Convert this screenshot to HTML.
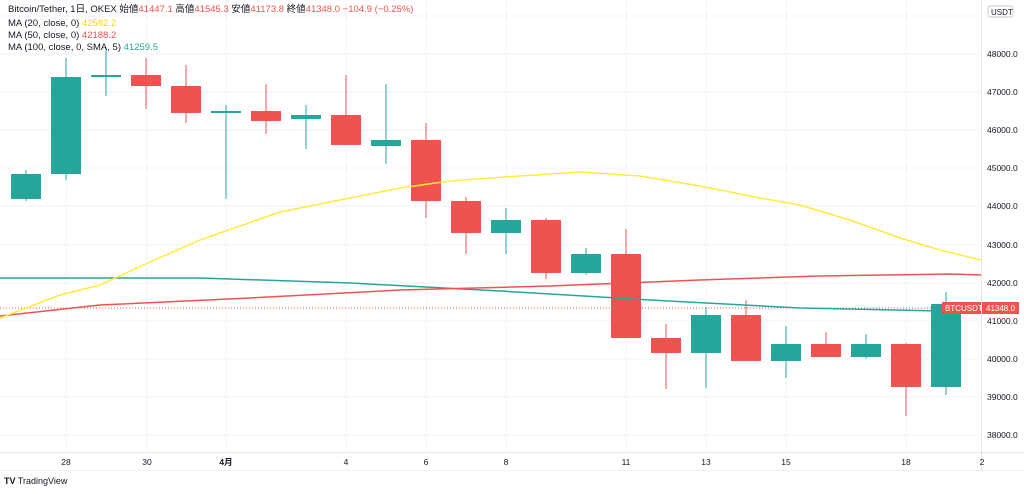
<!DOCTYPE html><html><head><meta charset="utf-8"><style>
body{margin:0;background:#fff;width:1024px;height:489px;overflow:hidden;font-family:"Liberation Sans","Noto Sans CJK JP",sans-serif}
svg text{font-family:"Liberation Sans","Noto Sans CJK JP",sans-serif}
</style></head><body>
<svg width="1024" height="489" xmlns="http://www.w3.org/2000/svg">
<g stroke="#f0f3fa" stroke-width="1">
<line x1="66" y1="0" x2="66" y2="452"/><line x1="147" y1="0" x2="147" y2="452"/><line x1="226" y1="0" x2="226" y2="452"/><line x1="346" y1="0" x2="346" y2="452"/><line x1="426" y1="0" x2="426" y2="452"/><line x1="506" y1="0" x2="506" y2="452"/><line x1="626" y1="0" x2="626" y2="452"/><line x1="706" y1="0" x2="706" y2="452"/><line x1="786" y1="0" x2="786" y2="452"/><line x1="906" y1="0" x2="906" y2="452"/>
<line x1="0" y1="16" x2="981" y2="16"/><line x1="0" y1="54" x2="981" y2="54"/><line x1="0" y1="92" x2="981" y2="92"/><line x1="0" y1="130" x2="981" y2="130"/><line x1="0" y1="168" x2="981" y2="168"/><line x1="0" y1="206" x2="981" y2="206"/><line x1="0" y1="245" x2="981" y2="245"/><line x1="0" y1="283" x2="981" y2="283"/><line x1="0" y1="321" x2="981" y2="321"/><line x1="0" y1="359" x2="981" y2="359"/><line x1="0" y1="397" x2="981" y2="397"/><line x1="0" y1="435" x2="981" y2="435"/>
</g>
<line x1="981.5" y1="0" x2="981.5" y2="470" stroke="#e0e3eb"/>
<line x1="0" y1="452.5" x2="1024" y2="452.5" stroke="#e0e3eb"/>
<line x1="0" y1="470.5" x2="1024" y2="470.5" stroke="#eef0f4"/>
<line x1="0" y1="308" x2="981" y2="308" stroke="#ef5350" stroke-dasharray="1,2" stroke-width="1"/>
<g fill="#26a69a" stroke="#26a69a">
<line x1="26" x2="26" y1="170" y2="201"/><rect x="11" y="174" width="30" height="25" stroke="none"/>
<line x1="66" x2="66" y1="58" y2="180"/><rect x="51" y="77" width="30" height="97" stroke="none"/>
<line x1="106" x2="106" y1="48" y2="96"/><rect x="91" y="75" width="30" height="2" stroke="none"/>
<line x1="226" x2="226" y1="105" y2="199"/><rect x="211" y="111" width="30" height="2" stroke="none"/>
<line x1="306" x2="306" y1="105" y2="149"/><rect x="291" y="115" width="30" height="4" stroke="none"/>
<line x1="386" x2="386" y1="84" y2="164"/><rect x="371" y="140" width="30" height="6" stroke="none"/>
<line x1="506" x2="506" y1="208" y2="254"/><rect x="491" y="220" width="30" height="13" stroke="none"/>
<line x1="586" x2="586" y1="248" y2="275"/><rect x="571" y="254" width="30" height="19" stroke="none"/>
<line x1="706" x2="706" y1="307" y2="388"/><rect x="691" y="315" width="30" height="38" stroke="none"/>
<line x1="786" x2="786" y1="326" y2="378"/><rect x="771" y="344" width="30" height="17" stroke="none"/>
<line x1="866" x2="866" y1="334" y2="359"/><rect x="851" y="344" width="30" height="13" stroke="none"/>
<line x1="946" x2="946" y1="292" y2="395"/><rect x="931" y="304" width="30" height="83" stroke="none"/>
</g>
<g fill="#ef5350" stroke="#ef5350">
<line x1="146" x2="146" y1="58" y2="109"/><rect x="131" y="75" width="30" height="11" stroke="none"/>
<line x1="186" x2="186" y1="65" y2="123"/><rect x="171" y="86" width="30" height="27" stroke="none"/>
<line x1="266" x2="266" y1="84" y2="134"/><rect x="251" y="111" width="30" height="10" stroke="none"/>
<line x1="346" x2="346" y1="75" y2="145"/><rect x="331" y="115" width="30" height="30" stroke="none"/>
<line x1="426" x2="426" y1="123" y2="218"/><rect x="411" y="140" width="30" height="61" stroke="none"/>
<line x1="466" x2="466" y1="197" y2="254"/><rect x="451" y="201" width="30" height="32" stroke="none"/>
<line x1="546" x2="546" y1="218" y2="279"/><rect x="531" y="220" width="30" height="53" stroke="none"/>
<line x1="626" x2="626" y1="229" y2="338"/><rect x="611" y="254" width="30" height="84" stroke="none"/>
<line x1="666" x2="666" y1="324" y2="389"/><rect x="651" y="338" width="30" height="15" stroke="none"/>
<line x1="746" x2="746" y1="300" y2="361"/><rect x="731" y="315" width="30" height="46" stroke="none"/>
<line x1="826" x2="826" y1="332" y2="357"/><rect x="811" y="344" width="30" height="13" stroke="none"/>
<line x1="906" x2="906" y1="343" y2="416"/><rect x="891" y="344" width="30" height="43" stroke="none"/>
</g>
<polyline fill="none" stroke="#26a69a" stroke-width="1.5" points="0,278 200,278 350,283 500,291 650,300 800,308 940,311 981,311"/>
<polyline fill="none" stroke="#ef5350" stroke-width="1.5" points="0,316 100,305 250,298 400,290 550,286 700,280 820,276 950,274 981,275"/>
<polyline fill="none" stroke="#ffeb3b" stroke-width="1.5" points="0,318 60,295 100,285 150,262 200,240 280,212 350,198 400,188 450,181 520,176 580,172 640,176 700,186 760,198 800,205 850,220 900,238 940,250 981,260"/>
<g font-size="9.5" fill="#131722">
<text x="8" y="12">Bitcoin/Tether, 1日, OKEX  始値<tspan fill="#ef5350">41447.1</tspan>  高値<tspan fill="#ef5350">41545.3</tspan>  安値<tspan fill="#ef5350">41173.8</tspan>  終値<tspan fill="#ef5350">41348.0  −104.9 (−0.25%)</tspan></text>
<text x="8" y="26">MA (20, close, 0)  <tspan fill="#f5d800">42582.2</tspan></text>
<text x="8" y="38">MA (50, close, 0)  <tspan fill="#ef5350">42188.2</tspan></text>
<text x="8" y="50">MA (100, close, 0, SMA, 5)  <tspan fill="#26a69a">41259.5</tspan></text>
</g>
<g font-size="8.5" fill="#131722">
<text x="987" y="57">48000.0</text><text x="987" y="95">47000.0</text><text x="987" y="133">46000.0</text><text x="987" y="171">45000.0</text><text x="987" y="209">44000.0</text><text x="987" y="248">43000.0</text><text x="987" y="286">42000.0</text><text x="987" y="324">41000.0</text><text x="987" y="362">40000.0</text><text x="987" y="400">39000.0</text><text x="987" y="438">38000.0</text>
</g>
<rect x="988" y="6" width="25" height="11" rx="2" fill="#fff" stroke="#b2b5be" stroke-width="0.7"/>
<text x="991" y="15" font-size="8" fill="#131722">USDT</text>
<rect x="942" y="302" width="39" height="12" fill="#ef5350"/><text x="945" y="311" font-size="8" fill="#fff">BTCUSDT</text>
<rect x="982" y="302" width="37" height="12" fill="#ef5350"/><text x="986" y="311" font-size="8" fill="#fff">41348.0</text>
<g font-size="8.5" fill="#131722" text-anchor="middle">
<text x="66" y="465">28</text><text x="147" y="465">30</text><text x="226" y="465" font-weight="bold">4月</text><text x="346" y="465">4</text><text x="426" y="465">6</text><text x="506" y="465">8</text><text x="626" y="465">11</text><text x="706" y="465">13</text><text x="786" y="465">15</text><text x="906" y="465">18</text><text x="982" y="465">2</text>
</g>
<text x="4" y="484" font-size="9" fill="#131722"><tspan font-weight="bold">TV</tspan> TradingView</text>
</svg></body></html>
